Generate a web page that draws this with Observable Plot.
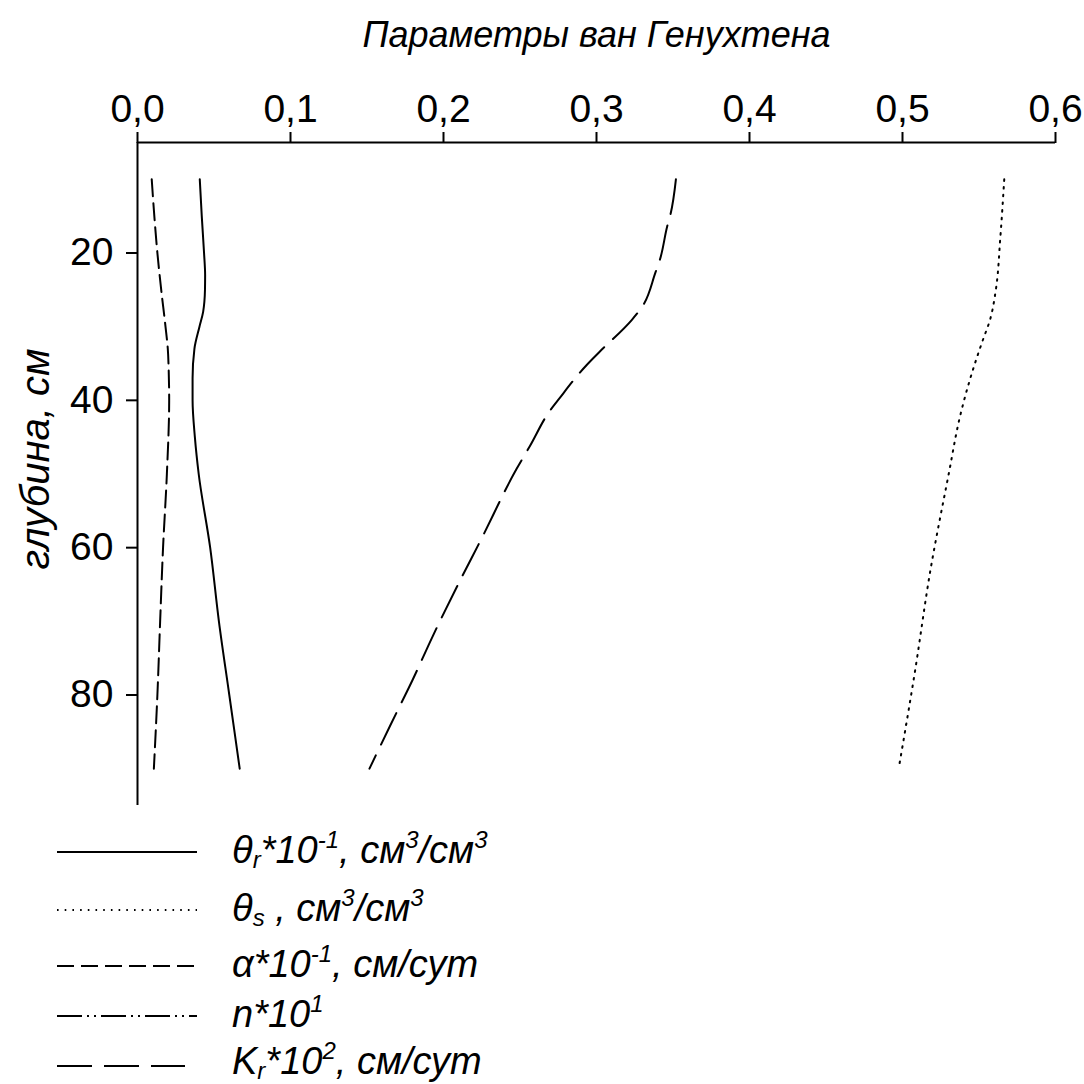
<!DOCTYPE html>
<html>
<head>
<meta charset="utf-8">
<script src="https://cdn.jsdelivr.net/npm/d3@7"></script>
<script src="https://cdn.jsdelivr.net/npm/@observablehq/plot@0.6"></script>
<style>
  html, body { margin: 0; padding: 0; background: #fff; overflow: hidden; }
  #chart svg { display: block; }
  #legend { display: block; }
</style>
</head>
<body>
<div id="chart"></div>
<svg id="legend" width="1084" height="269"></svg>
<script>
// Van Genuchten parameters by depth (cm)
const depthThetaR = [10, 15, 20, 23, 25, 28, 30, 33, 37, 40, 45, 50, 60, 70, 80, 90];
const thetaR      = [0.0407, 0.042, 0.0435, 0.0442, 0.0441, 0.0429, 0.0405, 0.0372, 0.036, 0.036, 0.0375, 0.040, 0.0475, 0.0532, 0.060, 0.0668];

const depthThetaS = [10, 18, 25, 29, 32, 36, 42, 50, 63, 77, 90];
const thetaS      = [0.5665, 0.5639, 0.561, 0.5573, 0.5522, 0.5458, 0.5378, 0.5302, 0.5183, 0.508, 0.4975];

const depthAlpha  = [10, 15, 20, 25, 30, 33, 36, 40, 50, 60, 70, 80, 90];
const alpha       = [0.0093, 0.011, 0.013, 0.0155, 0.0183, 0.0198, 0.0204, 0.0207, 0.0192, 0.0167, 0.0148, 0.013, 0.0107];

const depthKr     = [10, 14.7, 16.3, 21, 22.6, 27.4, 29.1, 33.5, 35.2, 39.8, 41.4, 46.2, 49.3, 59, 65, 72, 78, 84, 90];
const kr          = [0.3519, 0.3484, 0.3463, 0.3413, 0.3386, 0.3295, 0.323, 0.3016, 0.2936, 0.2755, 0.2696, 0.2565, 0.2478, 0.2243, 0.2095, 0.193, 0.1797, 0.1655, 0.1516];

const xTicks = [0, 0.1, 0.2, 0.3, 0.4, 0.5, 0.6];
const yTicks = [20, 40, 60, 80];

const xTitle = "Параметры ван Генухтена";
const yTitle = "глубина, см";

const series = [
  {key: "thetaR", depth: depthThetaR, values: thetaR, dash: null},
  {key: "thetaS", depth: depthThetaS, values: thetaS, dash: "1.6,6.1"},
  {key: "alpha",  depth: depthAlpha,  values: alpha,  dash: "17,7"},
  {key: "kr",     depth: depthKr,     values: kr,     dash: "35,12"}
];

const rows = s => s.depth.map((d, i) => ({depth: d, value: s.values[i]}));
const fmt = d => d.toFixed(1).replace(".", ",");
const FONT = "'Liberation Sans', Arial, sans-serif";

const plot = Plot.plot({
  width: 1084,
  height: 815,
  marginLeft: 137,
  marginRight: 29,
  marginTop: 142,
  marginBottom: 10,
  style: {fontFamily: FONT, color: "#000", background: "#fff", overflow: "visible"},
  x: {domain: [0, 0.6]},
  y: {domain: [5, 95], reverse: true},
  marks: [
    Plot.axisX({anchor: "top", ticks: xTicks, tickFormat: fmt, tickSize: 11, tickPadding: 10,
                fontSize: 39, strokeWidth: 2, label: null}),
    Plot.axisY({anchor: "left", ticks: yTicks, tickSize: 11, tickPadding: 13,
                fontSize: 39, strokeWidth: 2, label: null}),
    Plot.ruleY([5], {stroke: "#000", strokeWidth: 2}),
    Plot.ruleX([0], {stroke: "#000", strokeWidth: 2}),
    ...series.map(s => Plot.line(rows(s), {
      x: "value", y: "depth", curve: "monotone-y",
      stroke: "#000", strokeWidth: 2, strokeDasharray: s.dash
    })),
    Plot.text([xTitle], {frameAnchor: "top", dy: -107, lineAnchor: "middle", textAnchor: "middle",
                         fontSize: 36, fontStyle: "italic", fontFamily: FONT, fill: "#000"}),
    Plot.text([yTitle], {frameAnchor: "left", dx: -101, dy: -15, rotate: -90, textAnchor: "middle",
                         lineAnchor: "middle", fontSize: 40, fontStyle: "italic",
                         fontFamily: FONT, fill: "#000"})
  ]
});
document.getElementById("chart").appendChild(plot);

// Legend below the plot
const legendItems = [
  {dash: null, len: 140, parts: [["θ"], ["r", "sub"], ["*10"], ["-1", "sup"], [", см"], ["3", "sup"], ["/см"], ["3", "sup"]]},
  {dash: "1.6,6.1", len: 140, parts: [["θ"], ["s", "sub"], [" , см"], ["3", "sup"], ["/см"], ["3", "sup"]]},
  {dash: "17,7", len: 140, parts: [["α"], ["*10"], ["-1", "sup"], [", см/сут"]]},
  {dash: "25,5,2,5,2,5", len: 140, parts: [["n*10"], ["1", "sup"]]},
  {dash: "35,12", len: 128, parts: [["K"], ["r", "sub"], ["*10"], ["2", "sup"], [", см/сут"]]}
];
const legendY = [37, 95, 151, 201, 251];

const lg = d3.select("#legend").style("font-family", FONT);
legendItems.forEach((item, i) => {
  const y = legendY[i];
  lg.append("line")
    .attr("x1", 57).attr("x2", 57 + item.len)
    .attr("y1", y).attr("y2", y)
    .attr("stroke", "#000").attr("stroke-width", 2)
    .attr("stroke-dasharray", item.dash);
  const t = lg.append("text")
    .attr("x", 232).attr("y", y + (i === legendItems.length - 1 ? 8 : 11))
    .attr("font-size", 38).attr("font-style", "italic").attr("fill", "#000");
  let shift = 0;
  item.parts.forEach(([s, kind]) => {
    const target = kind === "sub" ? 5 : kind === "sup" ? -15 : 0;
    t.append("tspan")
      .attr("dy", target - shift)
      .attr("font-size", kind ? 24 : 38)
      .text(s);
    shift = target;
  });
});
</script>
</body>
</html>
